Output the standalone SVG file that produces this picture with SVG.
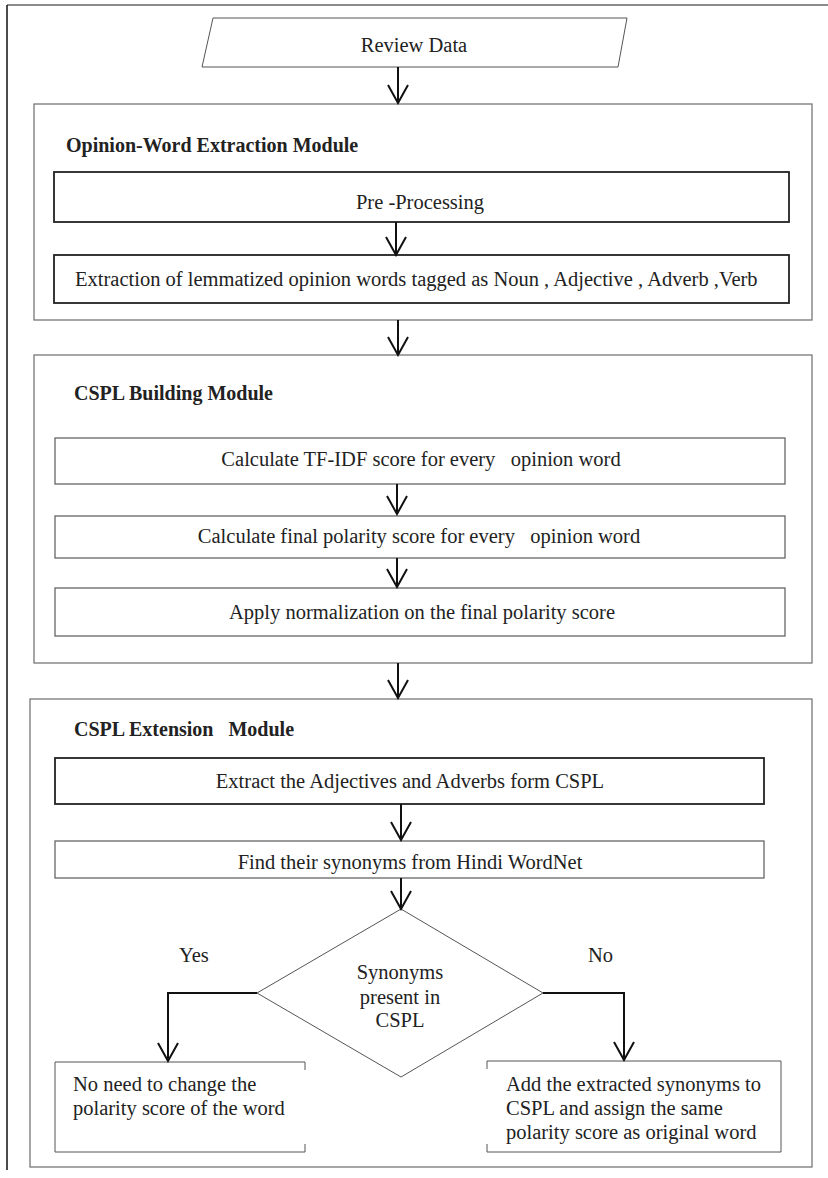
<svg xmlns="http://www.w3.org/2000/svg" width="828" height="1178" viewBox="0 0 828 1178">
<defs>
<style>
text{font-family:"Liberation Serif","Times New Roman",serif;font-size:20.5px;fill:#222;white-space:pre}
.c{text-anchor:middle}
.b{font-weight:bold;font-size:20px}
.mod{fill:none;stroke:#777;stroke-width:1.3}
.box{fill:#fff;stroke:#666;stroke-width:1.3}
.dark{fill:#fff;stroke:#222;stroke-width:1.8}
.ln{fill:none;stroke:#111;stroke-width:2}
.thin{fill:none;stroke:#555;stroke-width:1}
</style>
<marker id="ah" viewBox="-20 -12 22 24" refX="0" refY="0" markerWidth="22" markerHeight="24" markerUnits="userSpaceOnUse" orient="auto">
<path d="M-18,-10 L0,0 L-18,10" fill="none" stroke="#111" stroke-width="2"/>
</marker>
</defs>
<rect width="828" height="1178" fill="#fff"/>
<g id="frame">
<line x1="7" y1="5" x2="828" y2="5" stroke="#666" stroke-width="1.5"/>
<line x1="7" y1="5" x2="7" y2="1170" stroke="#111" stroke-width="1.5"/>
</g>
<g id="review-data">
<polygon points="213,18 627,18 618,67 202,67" class="thin" fill="#fff"/>
<text x="414" y="52" class="c">Review Data</text>
</g>
<g id="module-opinion">
<rect x="34" y="104" width="778" height="216" class="mod"/>
<text x="66" y="152" class="b">Opinion-Word Extraction Module</text>
</g>
<g id="pre-processing">
<rect x="54" y="172" width="735" height="50" class="dark"/>
<text x="420" y="209" class="c">Pre -Processing</text>
</g>
<g id="extraction">
<rect x="54" y="255" width="735" height="48" class="dark"/>
<text x="75" y="286">Extraction of lemmatized opinion words tagged as Noun , Adjective , Adverb ,Verb</text>
</g>
<g id="module-building">
<rect x="34" y="355" width="778" height="308" class="mod"/>
<text x="74" y="400" class="b">CSPL Building Module</text>
</g>
<g id="tfidf">
<rect x="55" y="438" width="730" height="46" class="box"/>
<text x="421" y="466" class="c">Calculate TF-IDF score for every   opinion word</text>
</g>
<g id="final-polarity">
<rect x="55" y="516" width="730" height="42" class="box"/>
<text x="419" y="543" class="c">Calculate final polarity score for every   opinion word</text>
</g>
<g id="normalization">
<rect x="55" y="588" width="730" height="48" class="box"/>
<text x="422" y="619" class="c">Apply normalization on the final polarity score</text>
</g>
<g id="module-extension">
<rect x="30" y="699" width="782" height="468" class="mod"/>
<text x="74" y="736" class="b">CSPL Extension   Module</text>
</g>
<g id="extract-adj">
<rect x="55" y="758" width="709" height="46" class="dark"/>
<text x="410" y="788" class="c">Extract the Adjectives and Adverbs form CSPL</text>
</g>
<g id="find-synonyms">
<rect x="55" y="841" width="709" height="37" class="box"/>
<text x="410" y="869" class="c">Find their synonyms from Hindi WordNet</text>
</g>
<g id="decision">
<polygon points="401,909 543,993 401,1077 257,993" class="thin" fill="#fff"/>
<text x="400" y="979" class="c">Synonyms</text>
<text x="400" y="1004" class="c">present in</text>
<text x="400" y="1027" class="c">CSPL</text>
</g>
<g id="no-change">
<path d="M305,1062 H55 V1152 H305 M305,1062 v8 M305,1152 v-8" class="thin"/>
<text x="73" y="1091">No need to change the</text>
<text x="73" y="1115">polarity score of the word</text>
</g>
<g id="add-synonyms">
<path d="M487,1061 H781 V1152 H487 M487,1061 v8 M487,1152 v-8" class="thin"/>
<text x="506" y="1091">Add the extracted synonyms to</text>
<text x="506" y="1115">CSPL and assign the same</text>
<text x="506" y="1139">polarity score as original word</text>
</g>
<g id="connectors">
<line x1="398" y1="67" x2="398" y2="103" class="ln" marker-end="url(#ah)"/>
<line x1="396" y1="222" x2="396" y2="255" class="ln" marker-end="url(#ah)"/>
<line x1="398" y1="320" x2="398" y2="355" class="ln" marker-end="url(#ah)"/>
<line x1="397" y1="484" x2="397" y2="514" class="ln" marker-end="url(#ah)"/>
<line x1="397" y1="558" x2="397" y2="587" class="ln" marker-end="url(#ah)"/>
<line x1="398" y1="663" x2="398" y2="698" class="ln" marker-end="url(#ah)"/>
<line x1="401" y1="804" x2="401" y2="840" class="ln" marker-end="url(#ah)"/>
<line x1="401" y1="878" x2="401" y2="909" class="ln" marker-end="url(#ah)"/>
<polyline points="257,993 168,993 168,1061" class="ln" marker-end="url(#ah)"/>
<polyline points="543,993 624,993 624,1060" class="ln" marker-end="url(#ah)"/>
<text x="179" y="962">Yes</text>
<text x="588" y="962">No</text>
</g>
</svg>
